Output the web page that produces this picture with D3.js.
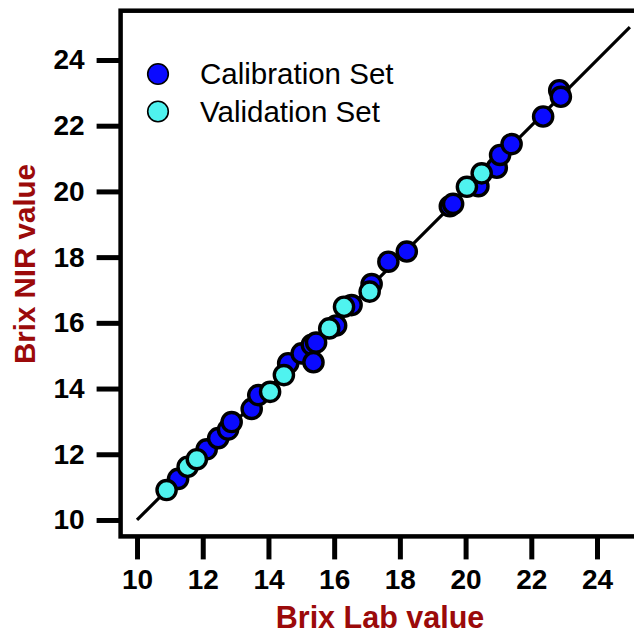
<!DOCTYPE html>
<html>
<head>
<meta charset="utf-8">
<script src="https://cdn.jsdelivr.net/npm/d3@7"></script>
<style>
html,body{margin:0;padding:0;background:#fff;overflow:hidden;}
svg{display:block;font-family:"Liberation Sans",Arial,sans-serif;}
</style>
</head>
<body>
<svg id="chart" width="634" height="635"></svg>
<script>
// Calibration set: Lab value (x) and NIR value (y)
const calLab = [11.25,12.12,12.47,12.77,12.88,13.49,13.69,14.60,15.01,15.32,15.45,15.37,16.06,16.53,17.14,17.65,18.21,19.52,19.62,20.39,20.95,21.05,21.40,22.36,22.85,22.90];
const calNIR = [11.25,12.15,12.49,12.75,12.98,13.38,13.80,14.77,15.07,15.33,15.40,14.80,15.92,16.54,17.18,17.86,18.17,19.55,19.62,20.16,20.72,21.11,21.44,22.28,23.08,22.88];
// Validation set
const valLab = [10.90,11.54,11.82,14.05,14.47,15.85,16.30,17.08,20.04,20.49];
const valNIR = [10.91,11.62,11.85,13.90,14.41,15.83,16.49,16.95,20.14,20.55];
// Ticks
const xTicks = [10,12,14,16,18,20,22,24];
const yTicks = [10,12,14,16,18,20,22,24];
const identityLine = [10,25];
const seriesNames = ["Calibration Set","Validation Set"];
const seriesColors = ["#0a0aff","#4ff3ef"];

const svg = d3.select("#chart");
const x = d3.scaleLinear().domain([9.5,25.5]).range([120.6,646.3]);
const y = d3.scaleLinear().domain([9.5,25.5]).range([536.4,10.7]);

// X axis
const xAxis = svg.append("g")
  .attr("transform",`translate(0,${y(9.5)})`)
  .call(d3.axisBottom(x).tickValues(xTicks).tickSize(23).tickPadding(10).tickFormat(d3.format("d")));
xAxis.select(".domain").remove();
xAxis.selectAll(".tick line").attr("stroke","#000").attr("stroke-width",5);
xAxis.selectAll(".tick text").attr("fill","#000").style("font-size","28px").style("font-weight","bold").style("font-family","'Liberation Sans',Arial,sans-serif");

// Y axis
const yAxis = svg.append("g")
  .attr("transform",`translate(${x(9.5)},0)`)
  .call(d3.axisLeft(y).tickValues(yTicks).tickSize(24).tickPadding(12).tickFormat(d3.format("d")));
yAxis.select(".domain").remove();
yAxis.selectAll(".tick line").attr("stroke","#000").attr("stroke-width",5);
yAxis.selectAll(".tick text").attr("fill","#000").style("font-size","28px").style("font-weight","bold").style("font-family","'Liberation Sans',Arial,sans-serif");

// Frame
svg.append("rect")
  .attr("x",x(9.5)).attr("y",y(25.5))
  .attr("width",x(25.5)-x(9.5)).attr("height",y(9.5)-y(25.5))
  .attr("fill","none").attr("stroke","#000").attr("stroke-width",4.5);

// 1:1 line
svg.append("line")
  .attr("x1",x(identityLine[0])).attr("y1",y(identityLine[0]))
  .attr("x2",x(identityLine[1])).attr("y2",y(identityLine[1]))
  .attr("stroke","#000").attr("stroke-width",3.2);

// Points
const cal = calLab.map((d,i)=>({x:d,y:calNIR[i]}));
const val = valLab.map((d,i)=>({x:d,y:valNIR[i]}));
svg.append("g").selectAll("circle").data(cal).join("circle")
  .attr("cx",d=>x(d.x)).attr("cy",d=>y(d.y)).attr("r",9.6)
  .attr("fill",seriesColors[0]).attr("stroke","#000").attr("stroke-width",3.4);
svg.append("g").selectAll("circle").data(val).join("circle")
  .attr("cx",d=>x(d.x)).attr("cy",d=>y(d.y)).attr("r",9.6)
  .attr("fill",seriesColors[1]).attr("stroke","#000").attr("stroke-width",3.4);

// Legend
const leg = svg.append("g");
seriesNames.forEach((name,i)=>{
  const cy = 74 + i*37.5;
  leg.append("circle").attr("cx",158).attr("cy",cy).attr("r",10.3)
    .attr("fill",seriesColors[i]).attr("stroke","#000").attr("stroke-width",1.6);
  leg.append("text").attr("x",200).attr("y",cy+10)
    .style("font-size","29.5px").attr("fill","#000").text(name);
});

// Axis titles
svg.append("text").attr("x",380).attr("y",628).attr("text-anchor","middle")
  .style("font-size","30.5px").style("font-weight","bold").attr("fill","#9b0a0a")
  .text("Brix Lab value");
svg.append("text").attr("transform","translate(35,264) rotate(-90)").attr("text-anchor","middle")
  .style("font-size","29.5px").style("font-weight","bold").attr("fill","#9b0a0a")
  .text("Brix NIR value");
</script>
</body>
</html>
